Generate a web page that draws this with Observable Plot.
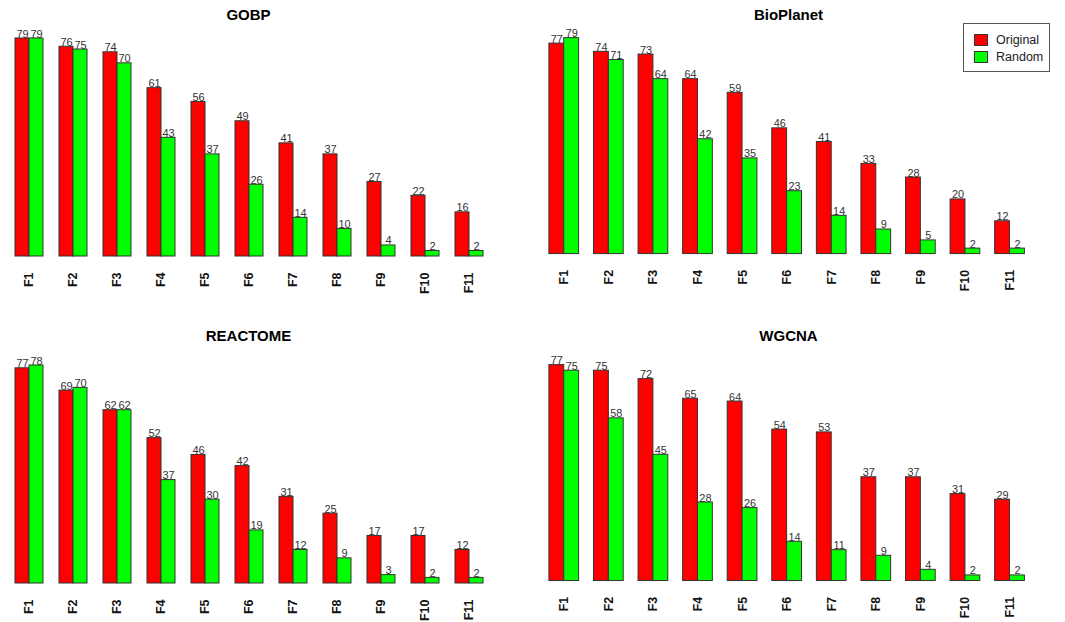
<!DOCTYPE html>
<html>
<head>
<meta charset="utf-8">
<script src="https://cdn.jsdelivr.net/npm/d3@7"></script>
<script src="https://cdn.jsdelivr.net/npm/@observablehq/plot@0.6"></script>
<style>
  html, body { margin: 0; padding: 0; background: #fff; }
  #wrap { position: relative; width: 1065px; height: 622px; overflow: hidden; font-family: "Liberation Sans", Arial, sans-serif; }
  .panel { position: absolute; }
  .title { position: absolute; font-weight: bold; font-size: 15px; color: #000; transform: translate(-50%, -50%); white-space: nowrap; }
  .legend { position: absolute; border: 1px solid #555; background: #fff; font-size: 12.5px; color: #222; }
  .legend .row { display: flex; align-items: center; height: 17px; }
  .legend .sw { width: 12px; height: 10px; border: 1px solid #333; margin: 0 8px 0 10px; }
</style>
</head>
<body>
<div id="wrap"></div>
<script>
const categories = ["F1","F2","F3","F4","F5","F6","F7","F8","F9","F10","F11"];
const series = ["Original","Random"];
const seriesColors = ["#ff0000","#00ff00"];

const gobpOriginal = [79,76,74,61,56,49,41,37,27,22,16];
const gobpRandom   = [79,75,70,43,37,26,14,10,4,2,2];
const bioOriginal  = [77,74,73,64,59,46,41,33,28,20,12];
const bioRandom    = [79,71,64,42,35,23,14,9,5,2,2];
const reacOriginal = [77,69,62,52,46,42,31,25,17,17,12];
const reacRandom   = [78,70,62,37,30,19,12,9,3,2,2];
const wgcnaOriginal = [77,75,72,65,64,54,53,37,37,31,29];
const wgcnaRandom   = [75,58,45,28,26,14,11,9,4,2,2];

const titles = ["GOBP","BioPlanet","REACTOME","WGCNA"];

const wrap = document.getElementById("wrap");

function panel(title, orig, rand, left, top, range, marginTop, marginBottom, titleY) {
  const data = categories.flatMap((c, i) => [
    {cat: c, series: series[0], value: orig[i]},
    {cat: c, series: series[1], value: rand[i]}
  ]);
  const max = d3.max(data, d => d.value);
  const width = 9 + range + 40;
  const chart = Plot.plot({
    width, height: 300,
    marginLeft: 9, marginRight: 40, marginTop, marginBottom,
    style: {fontFamily: "'Liberation Sans', Arial, sans-serif", background: "transparent", overflow: "visible"},
    fx: {domain: categories, paddingInner: 1/3, paddingOuter: 0, label: null},
    x: {domain: series, padding: 0, axis: null},
    y: {domain: [0, max], axis: null},
    color: {domain: series, range: seriesColors},
    marks: [
      Plot.barY(data, {fx: "cat", x: "series", y: "value", fill: "series", stroke: "#333", strokeWidth: 1}),
      Plot.text(data, {fx: "cat", x: "series", y: "value", text: d => String(d.value), lineAnchor: "bottom", dy: -1, fontSize: 11, fill: "#333"}),
      Plot.axisFx({anchor: "bottom", tickRotate: -90, tickSize: 0, tickPadding: 16, fontSize: 12.5, fontWeight: "bold", fill: "#111", label: null})
    ]
  });
  const div = document.createElement("div");
  div.className = "panel";
  div.style.left = left + "px";
  div.style.top = top + "px";
  div.appendChild(chart);
  wrap.appendChild(div);
  const t = document.createElement("div");
  t.className = "title";
  t.textContent = title;
  t.style.left = (left + 9 + range / 2) + "px";
  t.style.top = titleY + "px";
  wrap.appendChild(t);
}

panel(titles[0], gobpOriginal, gobpRandom, 0, 0, 479, 38, 44, 14);
panel(titles[1], bioOriginal, bioRandom, 538, 0, 483, 38, 44, 14);
panel(titles[2], reacOriginal, reacRandom, 0, 322, 479, 43, 39, 335);
panel(titles[3], wgcnaOriginal, wgcnaRandom, 538, 322, 483, 43, 39, 335);

// legend
const lg = document.createElement("div");
lg.className = "legend";
lg.style.left = "963px";
lg.style.top = "23px";
lg.style.width = "85px";
lg.style.padding = "7px 0 6px 0";
series.forEach((s, i) => {
  const row = document.createElement("div");
  row.className = "row";
  const sw = document.createElement("div");
  sw.className = "sw";
  sw.style.background = seriesColors[i];
  const tx = document.createElement("span");
  tx.textContent = s;
  row.appendChild(sw);
  row.appendChild(tx);
  lg.appendChild(row);
});
wrap.appendChild(lg);
</script>
</body>
</html>
